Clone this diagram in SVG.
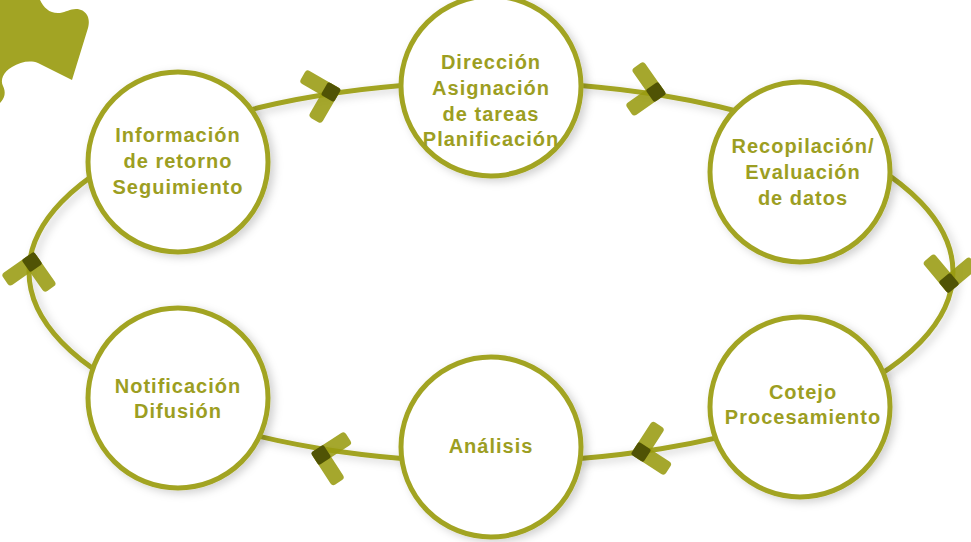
<svg xmlns="http://www.w3.org/2000/svg" xmlns:xlink="http://www.w3.org/1999/xlink" width="971" height="542" viewBox="0 0 971 542">
<style>
.ring{fill:none;stroke:#a2a424;stroke-width:5}
.node circle{fill:#ffffff;stroke:#a2a424;stroke-width:5}
.node text{font-family:"Liberation Sans",Arial,sans-serif;font-weight:bold;font-size:20px;fill:#9c9e22;text-anchor:middle;letter-spacing:1px}
.arm{fill:#989b10;opacity:0.88}
.ov{fill:#4a4d04;opacity:0.92}
</style>
<defs>
<filter id="sh" x="-10%" y="-10%" width="120%" height="120%">
<feDropShadow dx="4" dy="3" stdDeviation="4" flood-color="#000" flood-opacity="0.18"/>
</filter>
<g id="chev">
<rect class="arm" x="-7.5" y="-7.5" width="40" height="15" rx="3.5" transform="rotate(225)"/>
<rect class="arm" x="-7.5" y="-7.5" width="40" height="15" rx="3.5" transform="rotate(135)"/>
<rect class="ov" x="-7.5" y="-7.5" width="15" height="15" rx="2" transform="rotate(45)"/>
</g>
</defs>
<rect width="971" height="542" fill="#ffffff"/>
<path id="puzzle" d="M0,0 L40,0 C44,8 50,14 60,13 C66,12 70,9 76,9 C86,9 91,18 88,28 L72,80 L38,63 C30,60 20,62 12,67 C3,72 0,80 3,86 C6,92 5,98 0,103 Z" fill="#a2a424"/>
<g id="connectors">
<ellipse class="ring" cx="491" cy="272" rx="462" ry="190" filter="url(#sh)"/>
<use xlink:href="#chev" href="#chev" transform="translate(331,92) rotate(-15)"/>
<use xlink:href="#chev" href="#chev" transform="translate(656,92) rotate(10)"/>
<use xlink:href="#chev" href="#chev" transform="translate(949,283) rotate(95)"/>
<use xlink:href="#chev" href="#chev" transform="translate(641,452) rotate(168)"/>
<use xlink:href="#chev" href="#chev" transform="translate(321,455) rotate(192)"/>
<use xlink:href="#chev" href="#chev" transform="translate(32,262) rotate(-80)"/>
</g>
<g id="n-direccion" class="node"><circle cx="491" cy="86" r="90" filter="url(#sh)"/>
<text x="491" y="69">Dirección</text><text x="491" y="95">Asignación</text><text x="491" y="121">de tareas</text><text x="491" y="146">Planificación</text></g>
<g id="n-recopilacion" class="node"><circle cx="800" cy="172" r="90" filter="url(#sh)"/>
<text x="803" y="153">Recopilación/</text><text x="803" y="179">Evaluación</text><text x="803" y="205">de datos</text></g>
<g id="n-cotejo" class="node"><circle cx="800" cy="407" r="90" filter="url(#sh)"/>
<text x="803" y="399">Cotejo</text><text x="803" y="424">Procesamiento</text></g>
<g id="n-analisis" class="node"><circle cx="491" cy="447" r="90" filter="url(#sh)"/>
<text x="491" y="453">Análisis</text></g>
<g id="n-notificacion" class="node"><circle cx="178" cy="398" r="90" filter="url(#sh)"/>
<text x="178" y="393">Notificación</text><text x="178" y="418">Difusión</text></g>
<g id="n-informacion" class="node"><circle cx="178" cy="162" r="90" filter="url(#sh)"/>
<text x="178" y="142">Información</text><text x="178" y="168">de retorno</text><text x="178" y="194">Seguimiento</text></g>
</svg>
